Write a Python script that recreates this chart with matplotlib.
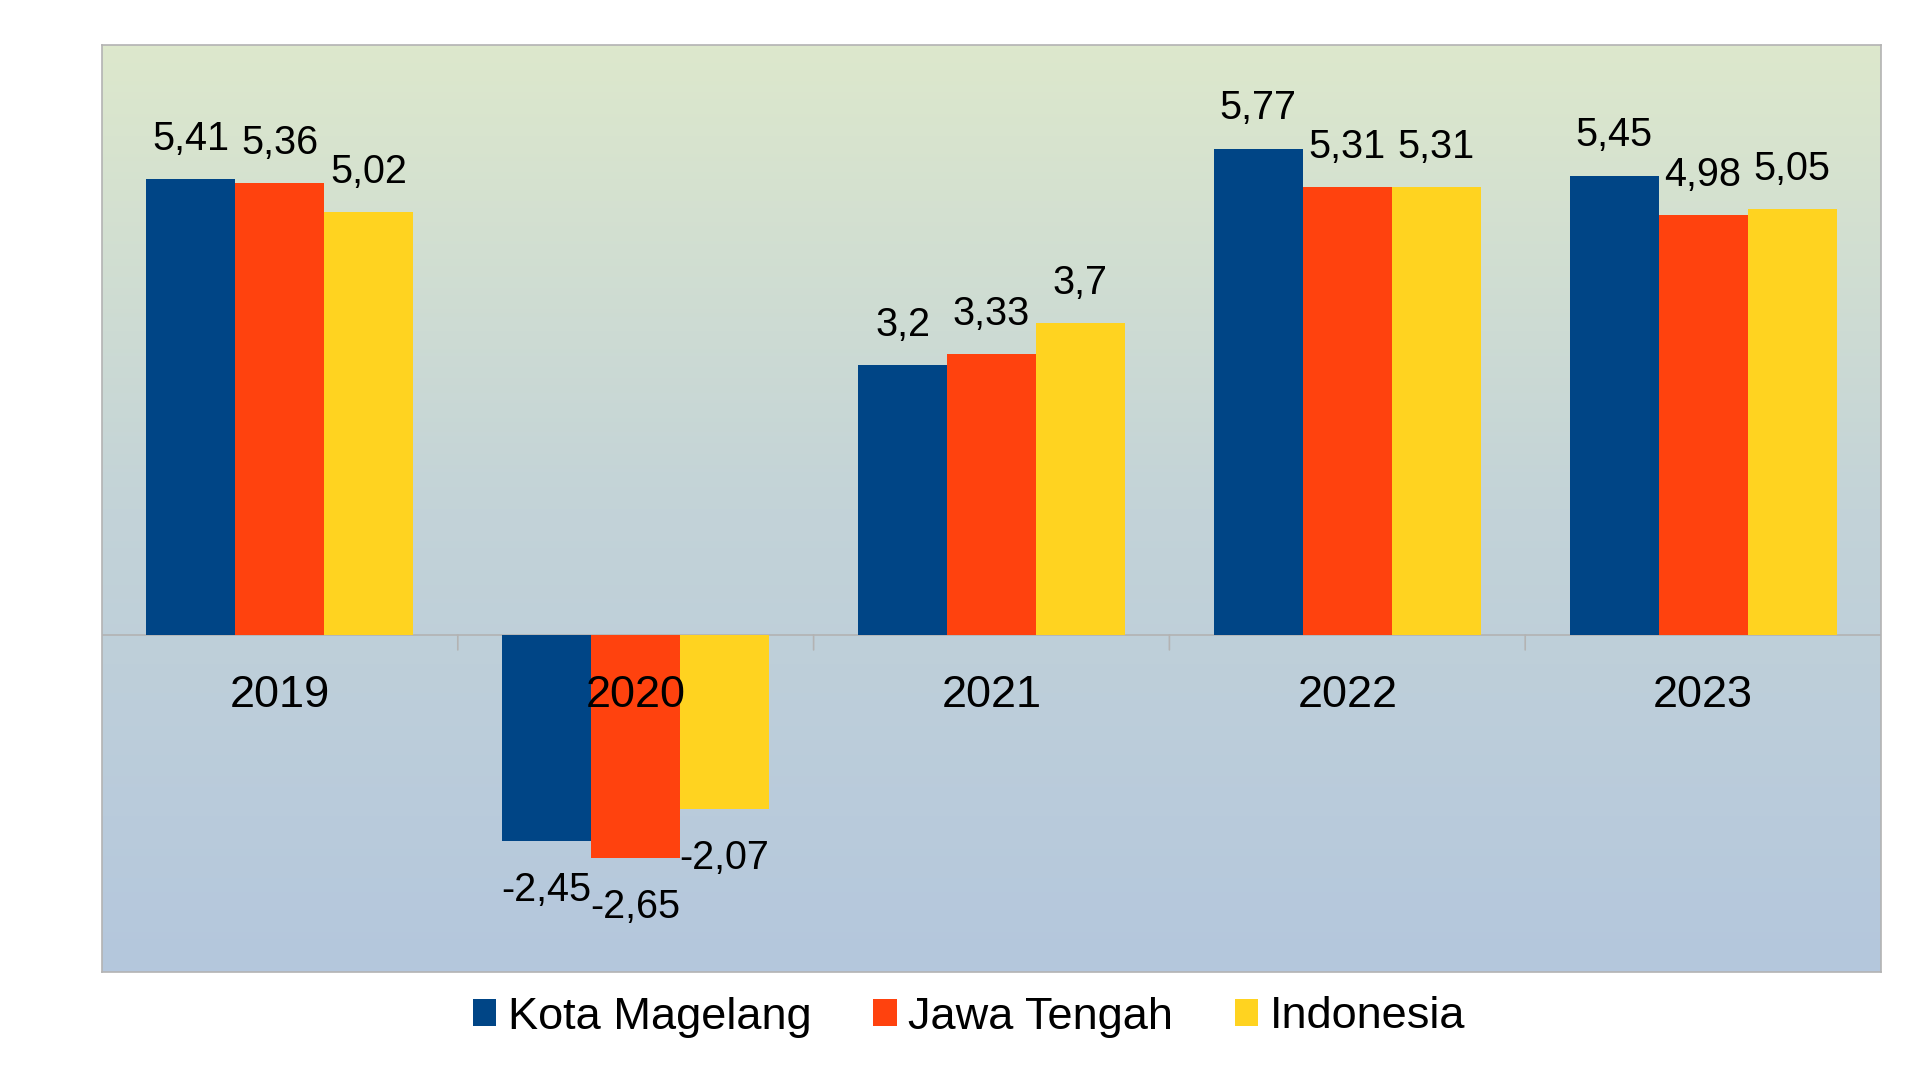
import numpy as np
import matplotlib
matplotlib.use("Agg")
import matplotlib.pyplot as plt
from matplotlib.patches import Patch
from matplotlib.colors import LinearSegmentedColormap

plt.rcParams['font.family'] = ['Liberation Sans', 'DejaVu Sans']

years = ["2019", "2020", "2021", "2022", "2023"]
series_names = ["Kota Magelang", "Jawa Tengah", "Indonesia"]
kota_magelang = [5.41, -2.45, 3.2, 5.77, 5.45]
jawa_tengah = [5.36, -2.65, 3.33, 5.31, 4.98]
indonesia = [5.02, -2.07, 3.7, 5.31, 5.05]
colors = ["#004586", "#ff420e", "#ffd320"]

W, H = 1920, 1081
fig = plt.figure(figsize=(W / 100, H / 100), dpi=100)
ax = fig.add_axes([102 / W, (H - 972) / H, (1881 - 102) / W, (972 - 45) / H])

ymin, ymax = -4, 7
ax.set_xlim(-0.5, len(years) - 0.5)
ax.set_ylim(ymin, ymax)

# gradient background
cmap = LinearSegmentedColormap.from_list("bg", ["#b4c7dd", "#c3d3d8", "#dde8cc"])
grad = np.linspace(0, 1, 256).reshape(-1, 1)
ax.imshow(grad, extent=[-0.5, len(years) - 0.5, ymin, ymax], origin="lower",
          aspect="auto", cmap=cmap, zorder=0)

x = np.arange(len(years))
w = 0.25
all_series = [kota_magelang, jawa_tengah, indonesia]
for i, (vals, col, name) in enumerate(zip(all_series, colors, series_names)):
    xs = x + (i - 1) * w
    ax.bar(xs, vals, width=w, color=col, zorder=2, label=name, linewidth=0)
    for xi, v in zip(xs, vals):
        lbl = f"{v:g}".replace(".", ",")
        off = 21.0 if v >= 0 else -43.2
        ax.annotate(lbl, (xi, v), xytext=(0, off), textcoords="offset points",
                    ha="center", va="baseline", fontsize=28.5, color="black", zorder=4)

# zero line and ticks at category boundaries
ax.axhline(0, color="#b3b3b3", linewidth=1.2, zorder=1)
for b in np.arange(0.5, len(years) - 0.5, 1.0):
    ax.annotate("", xy=(b, 0), xytext=(0, -10.8), textcoords="offset points",
                arrowprops=dict(arrowstyle="-", color="#b3b3b3", lw=1.2,
                                shrinkA=0, shrinkB=0), zorder=1)

# category labels
for xi, yr in zip(x, years):
    ax.annotate(yr, (xi, 0), xytext=(0, -51.8), textcoords="offset points",
                ha="center", va="baseline", fontsize=32.5, color="black", zorder=3)

ax.set_xticks([])
ax.set_yticks([])
for s in ax.spines.values():
    s.set_color("#b3b3b3")
    s.set_linewidth(1.2)

handles = [Patch(facecolor=c, edgecolor="none") for c in colors]
fig.legend(handles, series_names, loc="center", bbox_to_anchor=(969 / W, (H - 1017) / H),
           ncol=3, frameon=False, fontsize=32.5, handlelength=0.52, handleheight=0.52,
           handletextpad=0.25, columnspacing=1.37, borderpad=0, borderaxespad=0)

fig.savefig("out.png", dpi=100, facecolor="white")
